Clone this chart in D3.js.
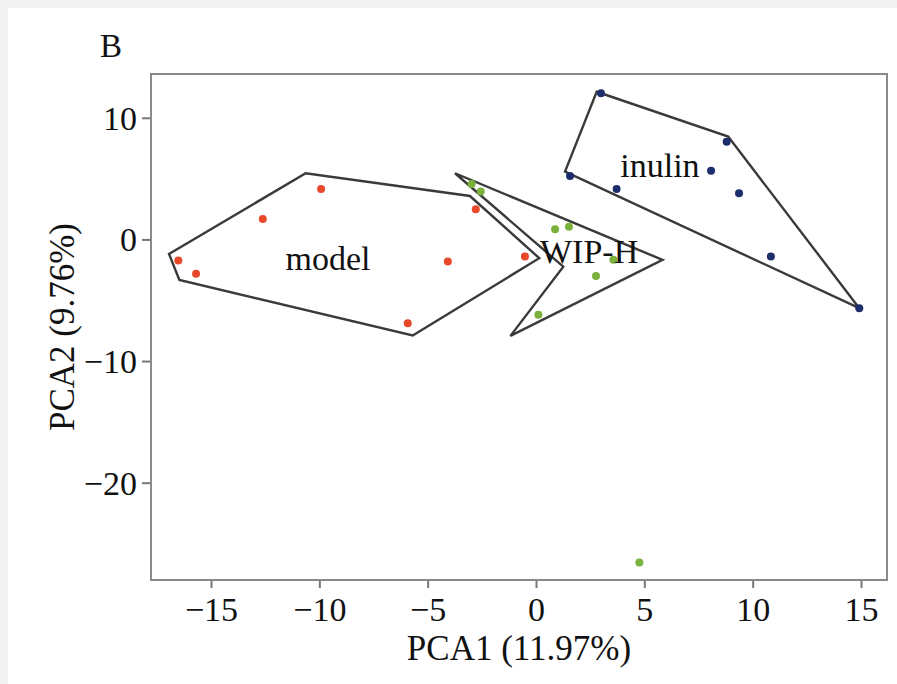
<!DOCTYPE html>
<html>
<head>
<meta charset="utf-8">
<script src="https://cdn.jsdelivr.net/npm/d3@7"></script>
<style>
  html, body { margin: 0; padding: 0; background: #f2f2f2; }
  svg { display: block; }
  text { font-family: "Liberation Serif", "Times New Roman", serif; fill: #111; }
</style>
</head>
<body>
<svg id="chart" width="897" height="684"></svg>
<script>
// PCA scores per group (PCA1, PCA2)
const groups = ["model", "WIP-H", "inulin"];
const colors = ["#e8492b", "#7ab23b", "#1c2d6b"];

const modelPC1 = [-16.51, -15.69, -12.61, -9.92, -2.78, -4.07, -5.92, -0.51];
const modelPC2 = [-1.74, -2.83, 1.68, 4.15, 2.48, -1.82, -6.89, -1.41];

const wipPC1 = [-2.97, -2.55, 0.88, 1.52, 3.57, 2.77, 0.11, 4.77];
const wipPC2 = [4.56, 3.93, 0.84, 1.05, -1.68, -3.00, -6.20, -26.56];

const inulinPC1 = [3.00, 8.80, 1.57, 3.72, 8.08, 9.37, 10.84, 14.92];
const inulinPC2 = [12.01, 8.04, 5.22, 4.15, 5.65, 3.80, -1.41, -5.65];

// outline vertices enclosing each group
const modelHullX = [-16.94, -16.46, -5.69, 0.15, -3.05, -10.63];
const modelHullY = [-1.19, -3.33, -7.90, -1.54, 3.57, 5.44];
const wipHullX = [-3.74, 5.84, -1.18, 1.26];
const wipHullY = [5.44, -1.68, -7.93, -2.24];
const inulinHullX = [2.80, 8.87, 14.92, 1.34];
const inulinHullY = [12.14, 8.45, -5.65, 5.57];

// group label anchors
const labelX = [-9.6, 2.45, 5.72];
const labelY = [-1.6, -1.0, 6.1];

const xTicks = [-15, -10, -5, 0, 5, 10, 15];
const yTicks = [-20, -10, 0, 10];
const xTitle = "PCA1 (11.97%)";
const yTitle = "PCA2 (9.76%)";
const panelTag = "B";

const svg = d3.select("#chart");
svg.append("rect").attr("x", 8).attr("y", 8).attr("width", 889).attr("height", 676).attr("fill", "#fff");

const plot = { left: 151, right: 887, top: 74, bottom: 580 };
const x = d3.scaleLinear().domain([-17.77, 16.2]).range([plot.left, plot.right]);
const y = d3.scaleLinear().domain([-28, 13.6]).range([plot.bottom, plot.top]);

const series = [
  { pc1: modelPC1, pc2: modelPC2, hx: modelHullX, hy: modelHullY },
  { pc1: wipPC1, pc2: wipPC2, hx: wipHullX, hy: wipHullY },
  { pc1: inulinPC1, pc2: inulinPC2, hx: inulinHullX, hy: inulinHullY }
];

// axes
const xAxis = svg.append("g").attr("transform", `translate(0,${plot.bottom})`)
  .call(d3.axisBottom(x).tickValues(xTicks).tickSize(8).tickPadding(8));
const yAxis = svg.append("g").attr("transform", `translate(${plot.left},0)`)
  .call(d3.axisLeft(y).tickValues(yTicks).tickSize(9).tickPadding(5));
[xAxis, yAxis].forEach(g => {
  g.select(".domain").remove();
  g.selectAll(".tick line").attr("stroke", "#777").attr("stroke-width", 2);
  g.selectAll(".tick text").style("font-size", "34px").attr("fill", "#111");
});
yAxis.selectAll(".tick text").attr("dy", "0.34em");
xAxis.selectAll(".tick text").attr("dy", "0.74em");

// plot frame
svg.append("rect").attr("x", plot.left).attr("y", plot.top)
  .attr("width", plot.right - plot.left).attr("height", plot.bottom - plot.top)
  .attr("fill", "none").attr("stroke", "#8a8a8a").attr("stroke-width", 2);

// group outlines
const line = d3.line();
series.forEach(s => {
  svg.append("path")
    .attr("d", line(s.hx.map((v, i) => [x(v), y(s.hy[i])])) + "Z")
    .attr("fill", "none").attr("stroke", "#3a3a3a").attr("stroke-width", 2.4)
    .attr("stroke-linejoin", "miter");
});

// points
series.forEach((s, gi) => {
  svg.append("g").selectAll("circle")
    .data(s.pc1.map((v, i) => [v, s.pc2[i]]))
    .join("circle")
    .attr("cx", d => x(d[0])).attr("cy", d => y(d[1]))
    .attr("r", 4).attr("fill", colors[gi]);
});

// group labels
svg.append("g").selectAll("text")
  .data(groups)
  .join("text")
  .attr("x", (d, i) => x(labelX[i])).attr("y", (d, i) => y(labelY[i]))
  .attr("text-anchor", "middle").attr("dominant-baseline", "central")
  .style("font-size", "34px")
  .text(d => d);

// titles
svg.append("text").attr("x", (plot.left + plot.right) / 2).attr("y", 660)
  .attr("text-anchor", "middle").style("font-size", "35px").text(xTitle);
svg.append("text").attr("transform", `translate(74,327) rotate(-90)`)
  .attr("text-anchor", "middle").style("font-size", "35px").text(yTitle);
svg.append("text").attr("x", 100).attr("y", 57).style("font-size", "33px").text(panelTag);
</script>
</body>
</html>
